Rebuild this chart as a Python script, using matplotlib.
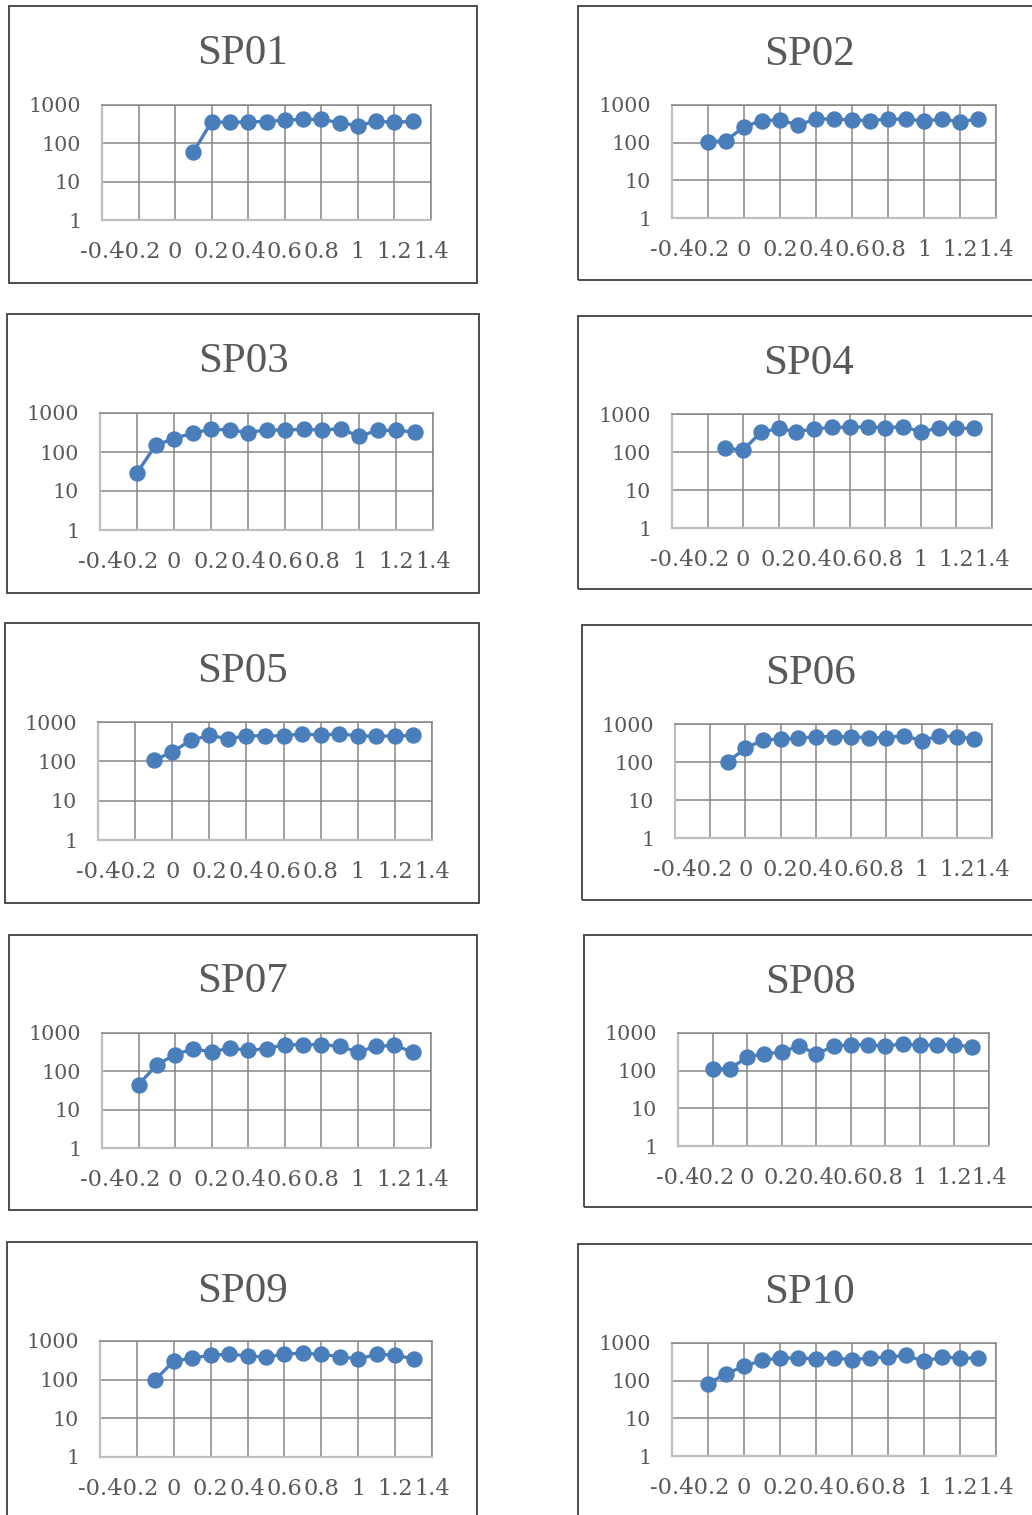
import matplotlib
matplotlib.use("Agg")
import matplotlib.pyplot as plt
from matplotlib.patches import Rectangle

plt.rcParams['axes.unicode_minus'] = False

# ---------------- data ----------------
titles = ["SP01", "SP02", "SP03", "SP04", "SP05", "SP06", "SP07", "SP08", "SP09", "SP10"]

x_m02 = [-0.2, -0.1, 0.0, 0.1, 0.2, 0.3, 0.4, 0.5, 0.6, 0.7, 0.8, 0.9, 1.0, 1.1, 1.2, 1.3]
x_m01 = [-0.1, 0.0, 0.1, 0.2, 0.3, 0.4, 0.5, 0.6, 0.7, 0.8, 0.9, 1.0, 1.1, 1.2, 1.3]
x_p01 = [0.1, 0.2, 0.3, 0.4, 0.5, 0.6, 0.7, 0.8, 0.9, 1.0, 1.1, 1.2, 1.3]

sp01 = [60, 367, 350, 367, 367, 406, 420, 420, 346, 289, 375, 354, 375]
sp02 = [106, 113, 266, 384, 400, 294, 425, 425, 400, 384, 425, 416, 384, 416, 361, 425]
sp03 = [29, 148, 220, 307, 381, 372, 313, 372, 359, 390, 359, 397, 252, 359, 359, 326]
sp04 = [125, 113, 330, 420, 343, 403, 446, 446, 464, 437, 464, 343, 420, 420, 420]
sp05 = [106, 173, 342, 458, 377, 440, 450, 440, 505, 458, 505, 440, 440, 440, 458]
sp06 = [102, 229, 380, 403, 420, 464, 464, 464, 437, 437, 493, 364, 484, 464, 403]
sp07 = [45, 149, 272, 390, 319, 406, 353, 390, 496, 496, 496, 449, 319, 449, 476, 319]
sp08 = [111, 113, 226, 282, 307, 461, 277, 443, 490, 490, 443, 521, 471, 490, 490, 425]
sp09 = [100, 304, 356, 435, 452, 418, 379, 462, 480, 452, 394, 342, 452, 435, 342]
sp10 = [83, 153, 240, 347, 400, 400, 384, 400, 361, 400, 425, 471, 326, 425, 400, 400]

series_x = [x_p01, x_m02, x_m02, x_m01, x_m01, x_m01, x_m02, x_m02, x_m01, x_m02]
series_y = [sp01, sp02, sp03, sp04, sp05, sp06, sp07, sp08, sp09, sp10]

x_ticks = [-0.4, -0.2, 0.0, 0.2, 0.4, 0.6, 0.8, 1.0, 1.2, 1.4]
x_tick_labels = ["-0.4", "-0.2", "0", "0.2", "0.4", "0.6", "0.8", "1", "1.2", "1.4"]
y_ticks = [1, 10, 100, 1000]
y_tick_labels = ["1", "10", "100", "1000"]

# ---------------- layout (pixels) ----------------
W, H = 1032, 1515
plot_rects = [  # x0, x1, ytop, ybottom
    (102, 431, 105, 220), (672, 996, 105, 218),
    (100, 433, 413, 530), (672, 992, 414, 528),
    (98, 432, 722, 840), (675, 992, 724, 838),
    (102, 431, 1033, 1148), (678, 989, 1033, 1146),
    (100, 432, 1341, 1457), (672, 996, 1343, 1456),
]
box_rects = [
    (9, 477, 6, 283), (578, 1041, 6, 280),
    (7, 479, 314, 593), (578, 1039, 316, 589),
    (5, 479, 623, 903), (582, 1039, 625, 900),
    (9, 477, 935, 1210), (584, 1036, 935, 1207),
    (7, 477, 1242, 1530), (578, 1041, 1244, 1530),
]
title_pos = [  # center x, baseline y
    (243, 64), (809.5, 65),
    (243, 371.5), (808.7, 374),
    (242, 681.5), (810.5, 684),
    (243, 992.5), (810, 993),
    (242.5, 1301.5), (809.5, 1303),
]

TEXT = "#595959"
GRID = "#868686"
AXIS = "#bfbfbf"
BLUE = "#4a7ebb"

fig = plt.figure(figsize=(W / 100, H / 100), dpi=100)
fig.patch.set_facecolor("white")

for i in range(10):
    bx0, bx1, bt, bb = box_rects[i]
    fig.patches.append(Rectangle((bx0 / W, 1 - bb / H), (bx1 - bx0) / W, (bb - bt) / H,
                                 transform=fig.transFigure, fill=False,
                                 edgecolor="#404040", linewidth=1.3, zorder=0))
    px0, px1, pt, pb = plot_rects[i]
    ax = fig.add_axes([px0 / W, 1 - pb / H, (px1 - px0) / W, (pb - pt) / H])
    ax.set_yscale("log")
    ax.set_xlim(-0.4, 1.4)
    ax.set_ylim(1, 1000)
    ax.set_xticks(x_ticks)
    ax.set_xticklabels(x_tick_labels)
    ax.set_yticks(y_ticks)
    ax.set_yticklabels(y_tick_labels)
    ax.yaxis.set_minor_locator(matplotlib.ticker.NullLocator())
    ax.grid(True, color=GRID, linewidth=1.1)
    ax.set_axisbelow(True)
    for side in ("top", "right"):
        ax.spines[side].set_color(GRID)
        ax.spines[side].set_linewidth(1.1)
    for side in ("left", "bottom"):
        ax.spines[side].set_color(AXIS)
        ax.spines[side].set_linewidth(1.6)
    ax.tick_params(axis="both", length=0, labelcolor=TEXT)
    ax.tick_params(axis="x", pad=15, labelsize=16.2)
    ax.tick_params(axis="y", pad=15, labelsize=14.9)
    for lab in ax.get_xticklabels() + ax.get_yticklabels():
        lab.set_fontfamily("DejaVu Serif")
    ax.plot(series_x[i], series_y[i], color=BLUE, linewidth=2.4, marker="o",
            markersize=10.8, markerfacecolor=BLUE, markeredgecolor=BLUE, clip_on=False, zorder=3)
    tx, ty = title_pos[i]
    fig.text(tx / W, 1 - ty / H, titles[i], ha="center", va="baseline",
             fontsize=31, color=TEXT, family="Liberation Serif")

fig.savefig("out.png", dpi=100)
